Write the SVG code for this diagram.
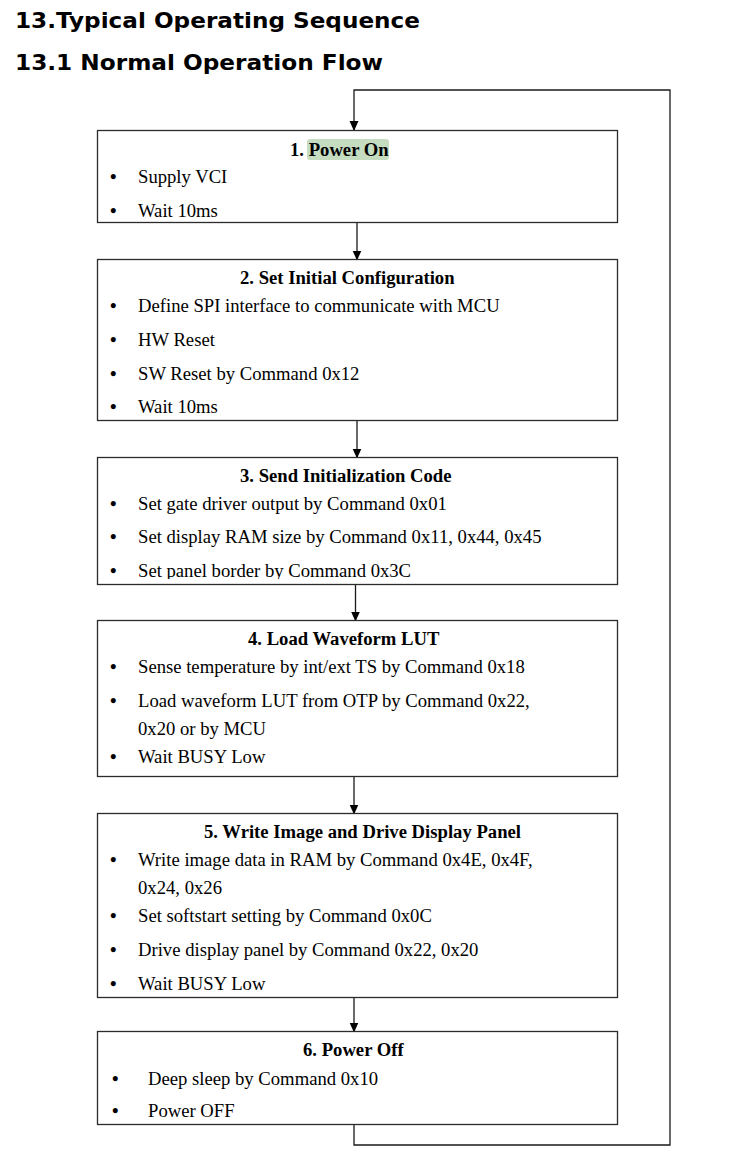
<svg xmlns="http://www.w3.org/2000/svg" width="740" height="1172" viewBox="0 0 740 1172">
<style>
.h{font-family:"DejaVu Sans",Verdana,sans-serif;font-weight:bold;font-size:22px;fill:#000}
.box{fill:#fff;stroke:#2b2b2b;stroke-width:1.3}
.t{font-family:"Liberation Serif","Times New Roman",serif;font-weight:bold;font-size:18.67px;fill:#000}
.b{font-family:"Liberation Serif","Times New Roman",serif;font-size:18.67px;fill:#000}
.d{font-family:"Liberation Serif","Times New Roman",serif;font-size:18.67px;font-weight:bold;fill:#000}
.ln{fill:none;stroke:#1a1a1a;stroke-width:1.3}
</style>
<defs>
<marker id="ah" markerWidth="10" markerHeight="10" refX="9" refY="5" orient="auto" markerUnits="userSpaceOnUse">
<path d="M0,0.5 L10,5 L0,9.5 Z" fill="#000"/>
</marker>
<clipPath id="c3"><rect x="97" y="457" width="521" height="122"/></clipPath>
</defs>
<rect width="740" height="1172" fill="#fff"/>
<text class="h" x="15" y="28" textLength="405" lengthAdjust="spacingAndGlyphs">13.Typical Operating Sequence</text>
<text class="h" x="15" y="69.5" textLength="368" lengthAdjust="spacingAndGlyphs">13.1 Normal Operation Flow</text>

<g id="connectors">
<path class="ln" d="M354,1124.5 V1145 H670 V90 H354 V130" marker-end="url(#ah)"/>
<path class="ln" d="M357,222.5 V259.5" marker-end="url(#ah)"/>
<path class="ln" d="M357,420.5 V457.5" marker-end="url(#ah)"/>
<path class="ln" d="M355.5,584.5 V620.5" marker-end="url(#ah)"/>
<path class="ln" d="M354,776.5 V813.5" marker-end="url(#ah)"/>
<path class="ln" d="M354,997.5 V1031.5" marker-end="url(#ah)"/>
</g>

<g id="node1">
<rect class="box" x="97.5" y="130.5" width="520" height="92"/>
<rect x="307" y="139" width="82" height="21" rx="3" fill="#c5dcc0"/>
<text class="t" x="290" y="156">1. Power On</text>
<text class="d" x="110" y="183">•</text><text class="b" x="138" y="183">Supply VCI</text>
<text class="d" x="110" y="217">•</text><text class="b" x="138" y="217">Wait 10ms</text>
</g>

<g id="node2">
<rect class="box" x="97.5" y="259.5" width="520" height="161"/>
<text class="t" x="240" y="284">2. Set Initial Configuration</text>
<text class="d" x="110" y="312">•</text><text class="b" x="138" y="312">Define SPI interface to communicate with MCU</text>
<text class="d" x="110" y="346">•</text><text class="b" x="138" y="346">HW Reset</text>
<text class="d" x="110" y="380">•</text><text class="b" x="138" y="380">SW Reset by Command 0x12</text>
<text class="d" x="110" y="413">•</text><text class="b" x="138" y="413">Wait 10ms</text>
</g>

<g id="node3">
<rect class="box" x="97.5" y="457.5" width="520" height="127"/>
<g clip-path="url(#c3)">
<text class="t" x="240" y="482">3. Send Initialization Code</text>
<text class="d" x="110" y="510">•</text><text class="b" x="138" y="510">Set gate driver output by Command 0x01</text>
<text class="d" x="110" y="543">•</text><text class="b" x="138" y="543">Set display RAM size by Command 0x11, 0x44, 0x45</text>
<text class="d" x="110" y="577">•</text><text class="b" x="138" y="577">Set panel border by Command 0x3C</text>
</g>
</g>

<g id="node4">
<rect class="box" x="97.5" y="620.5" width="520" height="156"/>
<text class="t" x="248" y="645">4. Load Waveform LUT</text>
<text class="d" x="110" y="673">•</text><text class="b" x="138" y="673">Sense temperature by int/ext TS by Command 0x18</text>
<text class="d" x="110" y="707">•</text><text class="b" x="138" y="707">Load waveform LUT from OTP by Command 0x22,</text>
<text class="b" x="138" y="735">0x20 or by MCU</text>
<text class="d" x="110" y="763">•</text><text class="b" x="138" y="763">Wait BUSY Low</text>
</g>

<g id="node5">
<rect class="box" x="97.5" y="813.5" width="520" height="184"/>
<text class="t" x="204" y="838">5. Write Image and Drive Display Panel</text>
<text class="d" x="110" y="866">•</text><text class="b" x="138" y="866">Write image data in RAM by Command 0x4E, 0x4F,</text>
<text class="b" x="138" y="894">0x24, 0x26</text>
<text class="d" x="110" y="922">•</text><text class="b" x="138" y="922">Set softstart setting by Command 0x0C</text>
<text class="d" x="110" y="956">•</text><text class="b" x="138" y="956">Drive display panel by Command 0x22, 0x20</text>
<text class="d" x="110" y="990">•</text><text class="b" x="138" y="990">Wait BUSY Low</text>
</g>

<g id="node6">
<rect class="box" x="97.5" y="1031.5" width="520" height="93"/>
<text class="t" x="303" y="1056">6. Power Off</text>
<text class="d" x="112" y="1085">•</text><text class="b" x="148" y="1085">Deep sleep by Command 0x10</text>
<text class="d" x="112" y="1117">•</text><text class="b" x="148" y="1117">Power OFF</text>
</g>
</svg>
